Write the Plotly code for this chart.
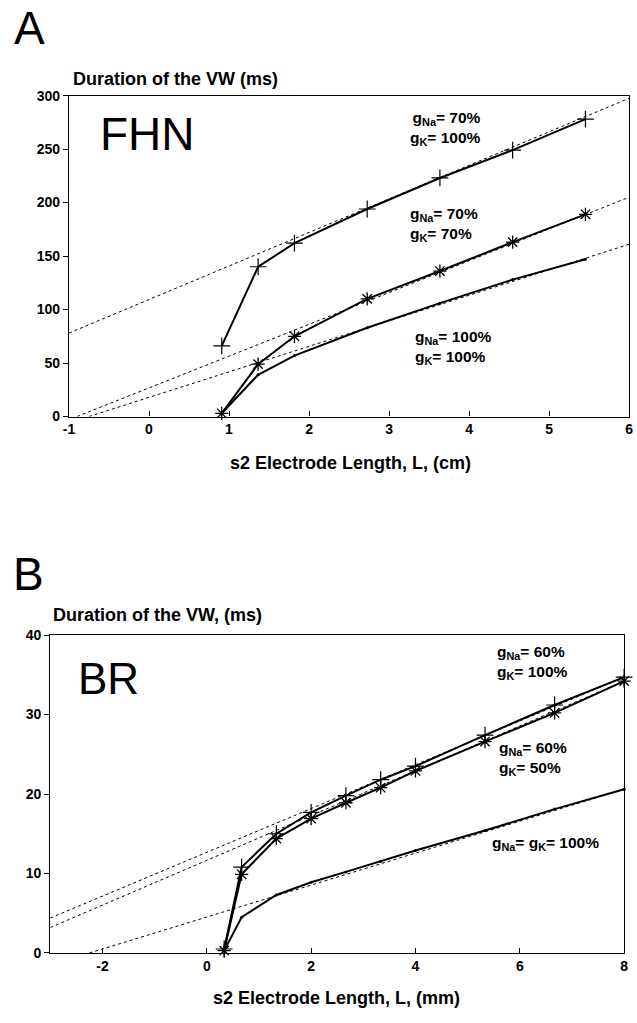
import plotly.graph_objects as go

W, H = 637, 1023

# ---------------- Panel A (FHN) data ----------------
a_x = [0.909, 1.364, 1.818, 2.727, 3.636, 4.545, 5.455]
a_na70_k100 = [66, 140, 162, 194, 223, 249, 278]
a_na70_k70 = [3, 49, 75, 110, 136, 163, 189]
a_na100_k100 = [3, 39, 57, 83, 106, 128, 147]
# extrapolation (dashed) lines: endpoints
a_fit1_x, a_fit1_y = [-1, 6], [78, 297.5]
a_fit2_x, a_fit2_y = [-0.9, 6], [0, 205]
a_fit3_x, a_fit3_y = [-0.75, 6], [0, 161]
a_xticks = [-1, 0, 1, 2, 3, 4, 5, 6]
a_xticklabels = ["-1", "0", "1", "2", "3", "4", "5", "6"]
a_yticks = [0, 50, 100, 150, 200, 250, 300]

# ---------------- Panel B (BR) data ----------------
b_x = [0.333, 0.667, 1.333, 2.0, 2.667, 3.333, 4.0, 5.333, 6.667, 8.0]
b_na60_k100 = [0.5, 10.8, 15.0, 17.7, 19.8, 21.8, 23.5, 27.4, 31.2, 34.7]
b_na60_k50 = [0.3, 9.9, 14.4, 16.9, 18.9, 20.8, 22.9, 26.6, 30.2, 34.2]
b_na100_k100 = [0.3, 4.5, 7.3, 8.9, 10.2, 11.5, 12.9, 15.4, 18.1, 20.6]
b_fit1_x, b_fit1_y = [-3, 8], [4.4, 34.7]
b_fit2_x, b_fit2_y = [-3, 8], [3.2, 34.2]
b_fit3_x, b_fit3_y = [-2.25, 8], [0, 20.6]
b_xticks = [-2, 0, 2, 4, 6, 8]
b_xticklabels = ["-2", "0", "2", "4", "6", "8"]
b_yticks = [0, 10, 20, 30, 40]

FONT = "Liberation Sans, Arial, sans-serif"


def px(x):
    return x / W


def py(y):
    return 1 - y / H


fig = go.Figure()

dash_style = dict(color="black", width=1, dash="3px,3px")


def add_panel(xa, ya, fits, series):
    for fx, fy in fits:
        fig.add_trace(go.Scatter(x=fx, y=fy, mode="lines", line=dash_style,
                                 xaxis=xa, yaxis=ya, showlegend=False, hoverinfo="skip"))
    for sx, sy, sym, size, lw in series:
        fig.add_trace(go.Scatter(
            x=sx, y=sy, mode="lines+markers", cliponaxis=False,
            line=dict(color="black", width=2),
            marker=dict(symbol=sym, size=size, color="black",
                        line=dict(color="black", width=lw)),
            xaxis=xa, yaxis=ya, showlegend=False))


add_panel("x", "y",
          [(a_fit1_x, a_fit1_y), (a_fit2_x, a_fit2_y), (a_fit3_x, a_fit3_y)],
          [(a_x, a_na70_k100, "cross-thin", 12, 1.2),
           (a_x, a_na70_k70, "asterisk-open", 11, 1.3),
           (a_x, a_na100_k100, "circle", 3, 0)])
add_panel("x2", "y2",
          [(b_fit1_x, b_fit1_y), (b_fit2_x, b_fit2_y), (b_fit3_x, b_fit3_y)],
          [(b_x, b_na60_k100, "cross-thin", 12, 1.2),
           (b_x, b_na60_k50, "asterisk-open", 11, 1.3),
           (b_x, b_na100_k100, "circle", 3, 0)])

tickfont = dict(family=FONT, size=14, color="black", weight="bold")
axis_common = dict(showline=True, linecolor="black", linewidth=1.2, mirror=True,
                   showgrid=False, zeroline=False, tickfont=tickfont,
                   tickcolor="black", ticklen=5, tickwidth=1)

fig.update_layout(
    width=W, height=H, autosize=False,
    margin=dict(l=0, r=0, t=0, b=0),
    paper_bgcolor="white", plot_bgcolor="white",
    xaxis=dict(domain=[px(64), px(633)], range=[-1, 6], tickvals=a_xticks,
               ticktext=a_xticklabels, ticks="inside", anchor="y", **axis_common),
    yaxis=dict(domain=[py(415), py(89)], range=[0, 300], tickvals=a_yticks,
               ticks="outside", anchor="x", **axis_common),
    xaxis2=dict(domain=[px(45), px(628)], range=[-3, 8], tickvals=b_xticks,
                ticktext=b_xticklabels, ticks="inside", anchor="y2", **axis_common),
    yaxis2=dict(domain=[py(960), py(637)], range=[0, 40], tickvals=b_yticks,
                ticks="outside", anchor="x2", **axis_common),
)

ann = []


def text(t, x, y, size, xanchor="left", yanchor="middle", bold=False, align="left"):
    ann.append(dict(text=t, x=px(x), y=py(y), xref="paper", yref="paper",
                    xanchor=xanchor, yanchor=yanchor, showarrow=False, align=align,
                    font=dict(family=FONT, size=size, color="black",
                              weight="bold" if bold else "normal")))


# Panel letters, titles
text("A", 6, 20, 46)
text("Duration of the VW (ms)", 66, 72, 18, bold=True)
text("FHN", 93, 128, 46)
text("s2 Electrode Length, L, (cm)", 350, 462, 18, xanchor="center", bold=True)

text("B", 5, 575, 46)
text("Duration of the VW, (ms)", 46, 617, 18, bold=True)
text("BR", 71, 681, 44)
text("s2 Electrode Length, L, (mm)", 336, 1006, 18, xanchor="center", bold=True)

# Condition labels
text("g<sub>Na</sub>= 70%<br>g<sub>K</sub>= 100%", 485, 122, 15.5, xanchor="right", bold=True, align="right")
text("g<sub>Na</sub>= 70%<br>g<sub>K</sub>= 70%", 408, 220, 15.5, bold=True)
text("g<sub>Na</sub>= 100%<br>g<sub>K</sub>= 100%", 413, 345, 15.5, bold=True)

text("g<sub>Na</sub>= 60%<br>g<sub>K</sub>= 100%", 497, 665, 15.5, bold=True)
text("g<sub>Na</sub>= 60%<br>g<sub>K</sub>= 50%", 499, 762, 15.5, bold=True)
text("g<sub>Na</sub>= g<sub>K</sub>= 100%", 492, 849, 15.5, bold=True)

fig.update_layout(annotations=ann)

fig.write_html("out.html")
